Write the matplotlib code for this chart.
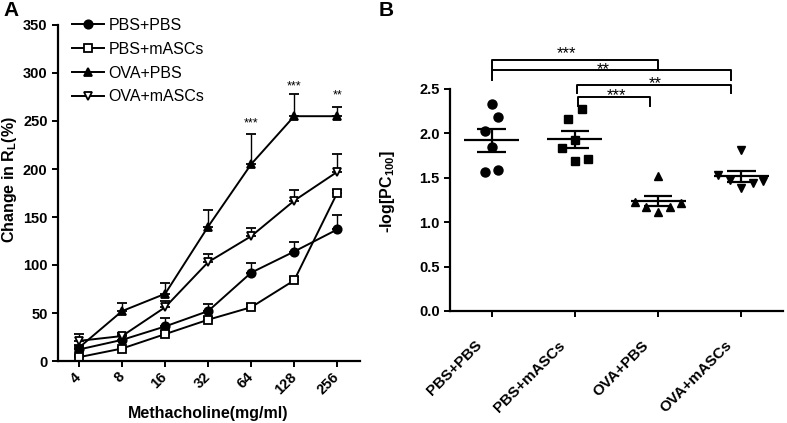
import numpy as np
import matplotlib
matplotlib.use("Agg")
import matplotlib.pyplot as plt
import matplotlib.transforms as mtransforms

plt.rcParams['font.family'] = ['Liberation Sans', 'DejaVu Sans']
plt.rcParams['mathtext.fontset'] = 'custom'
plt.rcParams['mathtext.bf'] = 'Liberation Sans:bold'
plt.rcParams['mathtext.rm'] = 'Liberation Sans:bold'

# ---- panel A data: change in RL (%) vs methacholine dose
doses = ['4', '8', '16', '32', '64', '128', '256']
pbs_pbs = [12, 22, 36, 52, 92, 114, 137]
pbs_pbs_err = [4, 5, 9, 7, 10, 10, 15]
pbs_masc = [4, 13, 28, 43, 56, 84, 175]
pbs_masc_err = [2, 2, 3, 3, 3, 3, 3]
ova_pbs = [14, 52, 70, 140, 205, 255, 255]
ova_pbs_err = [3, 8, 11, 17, 31, 23, 10]
ova_masc = [21, 26, 56, 103, 130, 167, 197]
ova_masc_err = [7, 3, 7, 8, 9, 11, 19]
stars_a = {4: ('***', 247), 5: ('***', 286), 6: ('**', 277)}

# ---- panel B data: -log[PC100] per animal
groups = ['PBS+PBS', 'PBS+mASCs', 'OVA+PBS', 'OVA+mASCs']
pc_pbs_pbs = [2.33, 2.18, 2.03, 1.85, 1.56, 1.59]
pc_pbs_masc = [2.16, 2.27, 1.84, 1.93, 1.69, 1.71]
pc_ova_pbs = [1.52, 1.23, 1.17, 1.12, 1.17, 1.22]
pc_ova_masc = [1.81, 1.53, 1.48, 1.38, 1.44, 1.46]
jitter = [[0, 0.08, -0.08, 0, -0.08, 0.08],
          [-0.08, 0.08, -0.16, 0, 0, 0.16],
          [0, -0.28, -0.14, 0, 0.14, 0.28],
          [0, -0.28, -0.14, 0, 0.14, 0.26]]
# brackets: (left group, right group, top, leg bottom, label, label x, label y)
brackets = [(0, 2.0, 2.83, 2.71, '***', 0.9, 2.90),
            (0, 2.88, 2.71, 2.60, '**', 1.34, 2.72),
            (1.02, 2.88, 2.55, 2.45, '**', 1.96, 2.56),
            (1.04, 1.90, 2.41, 2.31, '***', 1.5, 2.42)]

fig = plt.figure(figsize=(7.87, 4.23), dpi=100)
W, H = 787, 423
axA = fig.add_axes([58 / W, 1 - 361 / H, (360 - 58) / W, (361 - 25) / H])
axB = fig.add_axes([450 / W, 1 - 311 / H, (783 - 450) / W, (311 - 89) / H])

for ax in (axA, axB):
    ax.spines['top'].set_visible(False)
    ax.spines['right'].set_visible(False)
    ax.spines['left'].set_linewidth(1.6)
    ax.spines['bottom'].set_linewidth(1.6)
    ax.tick_params(direction='out', length=4, width=1.4, labelsize=10.5)

# ---- panel A
x = np.arange(len(doses))
series = [(pbs_pbs, pbs_pbs_err, 'o', 'black', 'PBS+PBS'),
          (pbs_masc, pbs_masc_err, 's', 'white', 'PBS+mASCs'),
          (ova_pbs, ova_pbs_err, '^', 'black', 'OVA+PBS'),
          (ova_masc, ova_masc_err, 'v', 'white', 'OVA+mASCs')]
handles = []
for vals, err, mk, fc, name in series:
    c = axA.errorbar(x, vals, yerr=[np.zeros(len(err)), err], color='black',
                     marker=mk, mfc=fc, mec='black', mew=1.3, ms=6, lw=1.4,
                     elinewidth=1.0, capsize=3.5, capthick=1.0, label=name)
    handles.append(c.lines[0])
for i, (s, yy) in stars_a.items():
    axA.text(x[i], yy, s, ha='center', va='center', fontsize=9)

axA.set_xlim(-0.49, 6.53)
axA.set_ylim(0, 350)
axA.set_yticks(range(0, 351, 50))
axA.set_yticklabels([str(v) for v in range(0, 351, 50)], fontweight='bold')
axA.set_xticks(x)
axA.set_xticklabels(doses, rotation=45, ha='right', va='center',
                    rotation_mode='anchor', fontweight='bold')
axA.tick_params(axis='x', pad=6)
axA.set_xlabel('Methacholine(mg/ml)', fontsize=11.5, fontweight='bold', va='center')
axA.xaxis.set_label_coords(0.497, -0.155)
axA.set_ylabel('Change in R$_\\mathbf{L}$(%)', fontsize=11.5, fontweight='bold', va='center')
axA.yaxis.set_label_coords(-0.160, 0.54)
leg = axA.legend(handles, [s[4] for s in series], loc='upper left',
                 bbox_to_anchor=(72 / W, 1 - 18 / H),
                 bbox_transform=fig.transFigure, frameon=False, fontsize=11.5,
                 handlelength=2.0, handletextpad=0.3, labelspacing=0.55,
                 borderpad=0, borderaxespad=0)
fig.text(11 / W, 1 - 10 / H, 'A', fontsize=15, fontweight='bold', ha='center', va='center')

# ---- panel B
pts = [pc_pbs_pbs, pc_pbs_masc, pc_ova_pbs, pc_ova_masc]
marks = ['o', 's', '^', 'v']
sizes = [6.5, 6, 5.5, 5.5]
for i, vals in enumerate(pts):
    vals = np.array(vals)
    axB.plot(i + np.array(jitter[i]), vals, ls='none', marker=marks[i],
             color='black', ms=sizes[i], zorder=3)
    m = vals.mean()
    sem = vals.std(ddof=1) / np.sqrt(len(vals))
    axB.hlines(m, i - 0.33, i + 0.33, color='black', lw=1.6, zorder=4)
    axB.vlines(i, m - sem, m + sem, color='black', lw=1.6, zorder=4)
    axB.hlines([m - sem, m + sem], i - 0.17, i + 0.17, color='black', lw=1.6, zorder=4)

for x0, x1, top, bot, s, tx, ty in brackets:
    axB.plot([x0, x0, x1, x1], [bot, top, top, bot], color='black', lw=1.4,
             clip_on=False)
    axB.text(tx, ty, s, ha='center', va='center', fontsize=12)

axB.set_xlim(-0.5, 3.5)
axB.set_ylim(0, 2.5)
axB.set_yticks([0, 0.5, 1.0, 1.5, 2.0, 2.5])
axB.set_yticklabels(['0.0', '0.5', '1.0', '1.5', '2.0', '2.5'], fontweight='bold')
axB.set_xticks(range(len(groups)))
axB.set_xticklabels(groups, rotation=45, ha='right', va='center',
                    rotation_mode='anchor', fontweight='bold', fontsize=11)
axB.tick_params(axis='x', pad=19)
shift = mtransforms.ScaledTranslation(-0.12, 0, fig.dpi_scale_trans)
for lab in axB.get_xticklabels():
    lab.set_transform(lab.get_transform() + shift)
axB.set_ylabel('-log[PC$_\\mathbf{100}$]', fontsize=11.5, fontweight='bold', va='center')
axB.yaxis.set_label_coords(-0.189, 0.536)
fig.text(386 / W, 1 - 11 / H, 'B', fontsize=15, fontweight='bold', ha='center', va='center')

fig.savefig('out.png', dpi=100)
